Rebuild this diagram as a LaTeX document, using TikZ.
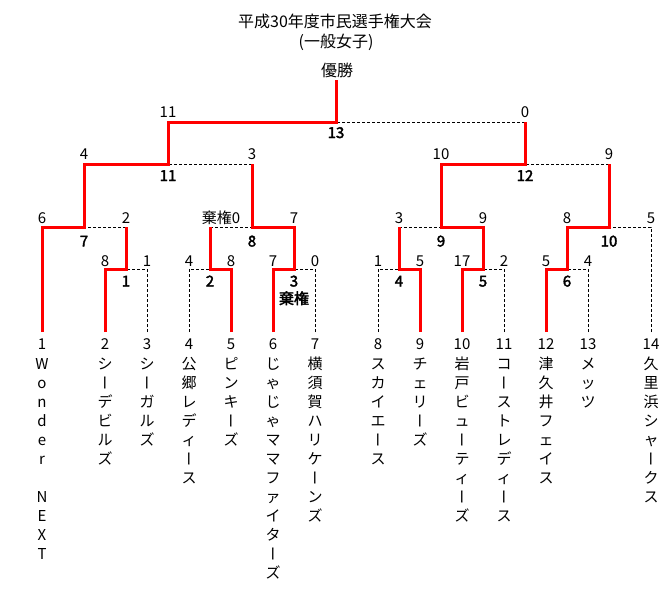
\documentclass[tikz,border=0pt]{standalone}
\usepackage{fontspec}
\usepackage{graphicx}
\setmainfont{Noto Sans CJK JP}[AutoFakeBold=2.5]
\newcommand\choon{\rotatebox[origin=c]{-90}{\makebox[1em]{\rule{0pt}{0.76em}ー}}}
\newcommand\teamcol[4]{%
  \node[ch] (num#1) at (#2,349.5) {#3};
  \foreach \c [count=\k] in {#4} {\node[ch] (n#1-\k) at (#2,{369.5+19*(\k-1)}) {\c};}%
}
\begin{document}
\begin{tikzpicture}[x=1pt,y=-1pt,
  win/.style={draw=red, line width=3pt, line join=miter},
  lose/.style={draw=black, line width=0.9pt, dash pattern=on 3pt off 2pt},
  score/.style={font=\fontsize{15}{15}\selectfont, anchor=base, inner sep=0pt},
  mno/.style={font=\fontsize{15}{15}\selectfont\bfseries, anchor=base, inner sep=0pt},
  ch/.style={font=\fontsize{15}{15}\selectfont, anchor=base, inner sep=0pt},
  ttl/.style={font=\fontsize{16}{16}\selectfont, anchor=base, inner sep=0pt}]
\useasboundingbox (0,0) rectangle (671,597);
% title
\node[ttl] (title1) at (335,27.5) {平成30年度市民選手権大会};
\node[ttl] (title2) at (336,47) {(一般女子)};
\node[ttl] (champlbl) at (337,76) {優勝};
% team feet
\foreach \i/\x in {1/42,2/105,3/147,4/189,5/231,6/273,7/315,8/378,9/420,10/462,11/504,12/546,13/588,14/651}
  \coordinate (t\i) at (\x,332);
% match centres
\coordinate (m1) at (126,269);
\coordinate (m2) at (210,269);
\coordinate (m3) at (294,269);
\coordinate (m4) at (399,269);
\coordinate (m5) at (483,269);
\coordinate (m6) at (567,269);
\coordinate (m7) at (84,227);
\coordinate (m8) at (252,227);
\coordinate (m9) at (441,227);
\coordinate (m10) at (609,227);
\coordinate (m11) at (168,164);
\coordinate (m12) at (525,164);
\coordinate (m13) at (336,122);
\coordinate (champ) at (336,80);
% losing lines
\draw[lose] (t3) |- (m1);
\draw[lose] (t4) |- (m2);
\draw[lose] (t7) |- (m3);
\draw[lose] (t8) |- (m4);
\draw[lose] (t11) |- (m5);
\draw[lose] (t13) |- (m6);
\draw[lose] (t14) |- (m10);
\draw[lose] (m1 |- m7) -- (m7);
\draw[lose] (m2 |- m8) -- (m8);
\draw[lose] (m4 |- m9) -- (m9);
\draw[lose] (m8 |- m11) -- (m11);
\draw[lose] (m10 |- m12) -- (m12);
\draw[lose] (m12 |- m13) -- (m13);
% winning lines
\draw[win] (t2) |- (m1) -- (m1 |- m7);
\draw[win] (t5) |- (m2) -- (m2 |- m8);
\draw[win] (t6) |- (m3) |- (m8) -- (m8 |- m11);
\draw[win] (t9) |- (m4) -- (m4 |- m9);
\draw[win] (t10) |- (m5) |- (m9) |- (m12) -- (m12 |- m13);
\draw[win] (t12) |- (m6) |- (m10) -- (m10 |- m12);
\draw[win] (t1) |- (m7) |- (m11) |- (m13) -- (champ);
% scores, first round
\node[score] (s2) at (105,266) {8};
\node[score] (s3) at (147,266) {1};
\node[score] (s4) at (189,266) {4};
\node[score] (s5) at (231,266) {8};
\node[score] (s6) at (273,266) {7};
\node[score] (s7) at (315,266) {0};
\node[score] (s8) at (378,266) {1};
\node[score] (s9) at (420,266) {5};
\node[score] (s10) at (462,266) {17};
\node[score] (s11) at (504,266) {2};
\node[score] (s12) at (546,266) {5};
\node[score] (s13) at (588,266) {4};
% scores, second round
\node[score] (s1) at (42,223) {6};
\node[score] (sm1) at (126,223) {2};
\node[score] (sm2) at (221,223) {棄権0};
\node[score] (sm3) at (294,223) {7};
\node[score] (sm4) at (399,223) {3};
\node[score] (sm5) at (483,223) {9};
\node[score] (sm6) at (567,223) {8};
\node[score] (s14) at (651,223) {5};
% scores, third round
\node[score] (sm7) at (84,159.5) {4};
\node[score] (sm8) at (252,159.5) {3};
\node[score] (sm9) at (441,159.5) {10};
\node[score] (sm10) at (609,159.5) {9};
% scores, final
\node[score] (sm11) at (168,117.5) {11};
\node[score] (sm12) at (525,117.5) {0};
% match numbers
\node[mno] (g1) at (126,286.5) {1};
\node[mno] (g2) at (210,286.5) {2};
\node[mno] (g3) at (294,286.5) {3};
\node[mno] (g3b) at (294,304) {棄権};
\node[mno] (g4) at (399,286.5) {4};
\node[mno] (g5) at (483,286.5) {5};
\node[mno] (g6) at (567,286.5) {6};
\node[mno] (g7) at (84,246.5) {7};
\node[mno] (g8) at (252,246.5) {8};
\node[mno] (g9) at (441,246.5) {9};
\node[mno] (g10) at (609,246.5) {10};
\node[mno] (g11) at (168,181) {11};
\node[mno] (g12) at (525,181) {12};
\node[mno] (g13) at (336,138) {13};
% team names
\teamcol{1}{42}{1}{W,o,n,d,e,r,{},N,E,X,T}
\teamcol{2}{105}{2}{シ,\choon,デ,ビ,ル,ズ}
\teamcol{3}{147}{3}{シ,\choon,ガ,ル,ズ}
\teamcol{4}{189}{4}{公,郷,レ,デ,ィ,\choon,ス}
\teamcol{5}{231}{5}{ピ,ン,キ,\choon,ズ}
\teamcol{6}{273}{6}{じ,ゃ,じ,ゃ,マ,マ,フ,ァ,イ,タ,\choon,ズ}
\teamcol{7}{315}{7}{横,須,賀,ハ,リ,ケ,\choon,ン,ズ}
\teamcol{8}{378}{8}{ス,カ,イ,エ,\choon,ス}
\teamcol{9}{420}{9}{チ,ェ,リ,\choon,ズ}
\teamcol{10}{462}{10}{岩,戸,ビ,ュ,\choon,テ,ィ,\choon,ズ}
\teamcol{11}{504}{11}{コ,\choon,ス,ト,レ,デ,ィ,\choon,ス}
\teamcol{12}{546}{12}{津,久,井,フ,ェ,イ,ス}
\teamcol{13}{588}{13}{メ,ッ,ツ}
\teamcol{14}{651}{14}{久,里,浜,シ,ャ,\choon,ク,ス}
\end{tikzpicture}
\end{document}
